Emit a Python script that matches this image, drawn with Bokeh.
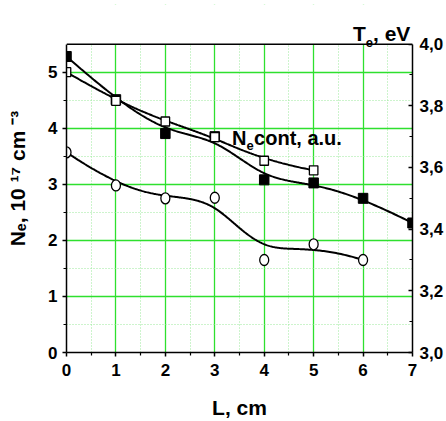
import numpy as np
from bokeh.plotting import figure
from bokeh.models import (Range1d, LinearAxis, FixedTicker, CustomJSTickFormatter, Label,
                          Span, BoxAnnotation)
from bokeh.embed import file_html
from bokeh.resources import INLINE

# ---- data ----
te_L = [0, 1, 2, 3, 4, 5, 6, 7]
te_vals = [3.96, 3.82, 3.71, 3.70, 3.56, 3.55, 3.50, 3.42]          # T_e, eV (right axis)
cont_L = [0, 1, 2, 3, 4, 5]
cont_vals = [5.00, 4.49, 4.12, 3.84, 3.42, 3.25]                   # N_e cont, a.u.
ne_L = [0, 1, 2, 3, 4, 5, 6]
ne_vals = [3.57, 2.98, 2.75, 2.76, 1.65, 1.93, 1.65]              # N_e, 10^17 cm^-3

x_ticks = [0, 1, 2, 3, 4, 5, 6, 7]
y_ticks = [0, 1, 2, 3, 4, 5]
te_ticks = [3.0, 3.2, 3.4, 3.6, 3.8, 4.0]

FONT = "Liberation Sans"


def bspline(xs, ys, n=300):
    """Clamped uniform cubic B-spline with the data as control points (Origin-style B-spline)."""
    P = np.column_stack([np.asarray(xs, float), np.asarray(ys, float)])
    k = 3
    m = len(P)
    knots = np.concatenate([[0.0] * k, np.arange(m - k + 1, dtype=float), [float(m - k)] * k])
    t = np.linspace(0, m - k, n)
    N = np.zeros((n, len(knots) - 1))
    for i in range(len(knots) - 1):
        N[:, i] = ((knots[i] <= t) & (t < knots[i + 1])).astype(float)
    N[t >= knots[-1], m - 1] = 1.0
    for d in range(1, k + 1):
        Nn = np.zeros((n, len(knots) - 1 - d))
        for i in range(len(knots) - 1 - d):
            a = knots[i + d] - knots[i]
            b = knots[i + d + 1] - knots[i + 1]
            term = np.zeros(n)
            if a > 0:
                term += (t - knots[i]) / a * N[:, i]
            if b > 0:
                term += (knots[i + d + 1] - t) / b * N[:, i + 1]
            Nn[:, i] = term
        N = Nn
    C = N @ P
    return C[:, 0], C[:, 1]


# ---- layout ----
W, H = 446, 421
BL, BR, BT, BB = 66, 31, 4, 66
FW = W - BL - BR
FH = H - BT - BB
GAP = 40                      # px between the frame top and y = 5.5 (room for "T_e, eV")
YMAX = 5.5
YTOP = YMAX * FH / (FH - GAP)
PPU_Y = (FH - GAP) / YMAX
PPU_X = FW / 7.0

p = figure(width=W, height=H, output_backend="svg", toolbar_location=None,
           x_range=Range1d(0, 7), y_range=Range1d(0, YTOP),
           min_border_left=BL, min_border_right=BR, min_border_top=BT, min_border_bottom=BB)
p.extra_y_ranges = {"te": Range1d(3.0, 3.0 + YTOP / YMAX)}
p.background_fill_color = "white"
p.border_fill_color = "white"
p.outline_line_color = None

# grid
GREEN = "#2ee02e"
p.xgrid.ticker = FixedTicker(ticks=[1, 2, 3, 4, 5, 6], minor_ticks=[0.5, 1.5, 2.5, 3.5, 4.5, 5.5, 6.5])
p.ygrid.ticker = FixedTicker(ticks=[1, 2, 3, 4, 5], minor_ticks=[0.5, 1.5, 2.5, 3.5, 4.5])
for g in (p.xgrid, p.ygrid):
    g.grid_line_color = GREEN
    g.grid_line_width = 1.3
    g.minor_grid_line_color = "#9be89b"
    g.minor_grid_line_width = 1
    g.minor_grid_line_dash = "1 2"


def style_axis(ax):
    ax.axis_line_color = "black"
    ax.axis_line_width = 1.5
    ax.major_tick_line_color = "black"
    ax.major_tick_line_width = 1.5
    ax.minor_tick_line_color = "black"
    ax.minor_tick_line_width = 1.2
    ax.major_label_text_font = FONT
    ax.major_label_text_font_style = "bold"
    ax.major_label_text_font_size = "17px"
    ax.major_label_text_color = "black"
    ax.axis_label_text_font = FONT
    ax.axis_label_text_font_style = "bold"
    ax.axis_label_text_font_size = "21px"
    ax.axis_label_text_color = "black"


xa = p.xaxis[0]
style_axis(xa)
xa.ticker = FixedTicker(ticks=x_ticks, minor_ticks=[0.5, 1.5, 2.5, 3.5, 4.5, 5.5, 6.5])
xa.major_tick_out = 4
xa.major_tick_in = 0
xa.minor_tick_out = 3
xa.minor_tick_in = 0
xa.major_label_standoff = 7
xa.axis_label = "L, cm"
xa.axis_label_standoff = 17

ya = p.yaxis[0]
style_axis(ya)
ya.bounds = (0, YMAX)
ya.ticker = FixedTicker(ticks=y_ticks, minor_ticks=[0.5, 1.5, 2.5, 3.5, 4.5])
ya.major_tick_out = 4
ya.major_tick_in = 0
ya.minor_tick_out = 3
ya.minor_tick_in = 0
ya.major_label_standoff = 5
ya.axis_label = "N\u2091, 10 \u00b9\u2077 cm \u207b\u00b3"
ya.axis_label_standoff = 16

ra = LinearAxis(y_range_name="te", bounds=(3.0, 4.0),
                ticker=FixedTicker(ticks=te_ticks, minor_ticks=[3.1, 3.3, 3.5, 3.7, 3.9]),
                formatter=CustomJSTickFormatter(code="return tick.toFixed(1).replace('.', ',');"))
style_axis(ra)
ra.major_tick_in = 4
ra.major_tick_out = 0
ra.minor_tick_in = 3
ra.minor_tick_out = 0
ra.major_label_standoff = 7
p.add_layout(ra, "right")

# curves
fx, fy = bspline(te_L, te_vals)
p.line(fx, fy, y_range_name="te", line_color="black", line_width=2)
cx_, cy_ = bspline(cont_L, cont_vals)
p.line(cx_, cy_, line_color="black", line_width=2)
nx, ny = bspline(ne_L, ne_vals)
p.line(nx, ny, line_color="black", line_width=2)

# markers
p.rect(te_L, te_vals, width=9.5, height=10, width_units="screen", height_units="screen",
       y_range_name="te", fill_color="black", line_color="black", line_width=1)
p.rect(cont_L, cont_vals, width=8.5, height=9, width_units="screen", height_units="screen",
       fill_color="white", line_color="black", line_width=1.3)
p.ellipse(ne_L, ne_vals, width=9, height=11, width_units="screen", height_units="screen",
          fill_color="white", line_color="black", line_width=1.3)

# white band above the plotting area (room for the T_e title) and the top frame line
p.add_layout(BoxAnnotation(bottom=YMAX, fill_color="white", fill_alpha=1.0, line_alpha=0))
p.add_layout(Span(location=YMAX, dimension="width", line_color="black", line_width=1.5))


def mk(txt, x, y, size, xoff=0):
    return Label(x=x, y=y, x_offset=xoff, text=txt,
                 text_font=FONT, text_font_style="bold", text_font_size=f"{size}px",
                 text_color="black", text_align="left", text_baseline="alphabetic")


# "N_e cont, a.u." inside the plot
p.add_layout(mk("N", 3.35, 3.83, 20))
p.add_layout(mk("e", 3.35, 3.69, 13, 14.5))
p.add_layout(mk("cont, a.u.", 3.35, 3.83, 20, 22))

# "T_e, eV" above the right axis
tx = 7.0 - 60.0 / PPU_X
p.add_layout(mk("T", tx, YMAX + 11.0 / PPU_Y, 21))
p.add_layout(mk("e", tx, YMAX + 1.5 / PPU_Y, 13, 12.8))
p.add_layout(mk(", eV", tx, YMAX + 11.0 / PPU_Y, 21, 20.0))

open("out.html", "w").write(file_html(p, INLINE))
